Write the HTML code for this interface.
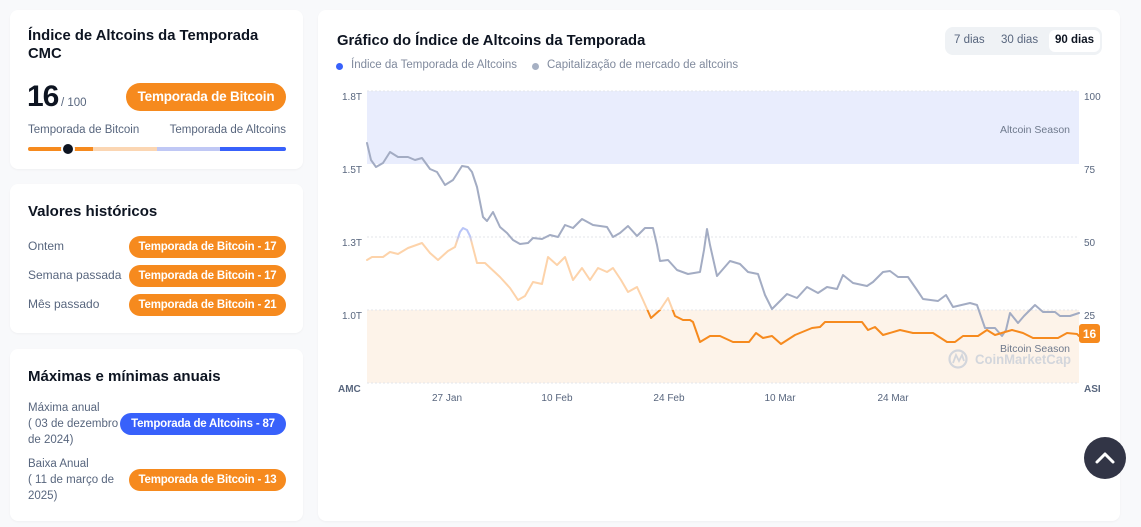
<!DOCTYPE html>
<html><head><meta charset="utf-8">
<style>
*{margin:0;padding:0;box-sizing:border-box}
body{width:1141px;height:527px;background:#f8f9fb;font-family:"Liberation Sans",sans-serif;position:relative;overflow:hidden;color:#0d1421}
.card{position:absolute;background:#fff;border-radius:8px;box-shadow:0 1px 2px rgba(0,0,0,0.04)}
.abs{position:absolute;white-space:nowrap}
.h{font-weight:bold;font-size:15px;color:#0d1421}
.lbl{font-size:11.5px;color:#58667e}
.pill{position:absolute;height:22px;border-radius:11px;background:#f68a1e;color:#fff;font-weight:bold;font-size:11.5px;text-align:center;line-height:22px;white-space:nowrap;letter-spacing:-0.2px}
</style></head><body>

<!-- Card 1 -->
<div class="card" style="left:10px;top:10px;width:293px;height:159px"></div>
<div class="abs h" style="left:28px;top:27px;line-height:18px;font-size:14.8px">Índice de Altcoins da Temporada<br>CMC</div>
<div class="abs" style="left:27px;top:80px;font-size:30px;font-weight:bold;letter-spacing:-1px">16</div>
<div class="abs" style="left:61px;top:97px;font-size:11.5px;color:#58667e">/ 100</div>
<div class="pill" style="left:126px;top:83px;width:160px;height:28px;border-radius:14px;line-height:28px;font-size:13.5px">Temporada de Bitcoin</div>
<div class="abs lbl" style="left:28px;top:124px">Temporada de Bitcoin</div>
<div class="abs lbl" style="right:855px;top:124px">Temporada de Altcoins</div>
<div class="abs" style="left:28px;top:147px;width:65px;height:4px;background:#f68a1e;border-radius:2px 0 0 2px"></div>
<div class="abs" style="left:93px;top:147px;width:64px;height:4px;background:#fbd6b3"></div>
<div class="abs" style="left:157px;top:147px;width:63px;height:4px;background:#c0c8f5"></div>
<div class="abs" style="left:220px;top:147px;width:66px;height:4px;background:#3861fb;border-radius:0 2px 2px 0"></div>
<div class="abs" style="left:61px;top:142px;width:14px;height:14px;border-radius:7px;background:#0d1421;border:2px solid #fff"></div>

<!-- Card 2 -->
<div class="card" style="left:10px;top:184px;width:293px;height:149px"></div>
<div class="abs h" style="left:28px;top:203px">Valores históricos</div>
<div class="abs lbl" style="left:28px;top:239px;font-size:12px">Ontem</div>
<div class="abs lbl" style="left:28px;top:268px;font-size:12px">Semana passada</div>
<div class="abs lbl" style="left:28px;top:297px;font-size:12px">Mês passado</div>
<div class="pill" style="left:129px;top:236px;width:157px">Temporada de Bitcoin - 17</div>
<div class="pill" style="left:129px;top:265px;width:157px">Temporada de Bitcoin - 17</div>
<div class="pill" style="left:129px;top:294px;width:157px">Temporada de Bitcoin - 21</div>

<!-- Card 3 -->
<div class="card" style="left:10px;top:349px;width:293px;height:172px"></div>
<div class="abs h" style="left:28px;top:368px">Máximas e mínimas anuais</div>
<div class="abs lbl" style="left:28px;top:400px;line-height:16px;font-size:11.5px">Máxima anual<br>( 03 de dezembro<br>de 2024)</div>
<div class="pill" style="left:120px;top:413px;width:166px;background:#3861fb">Temporada de Altcoins - 87</div>
<div class="abs lbl" style="left:28px;top:456px;line-height:16px;font-size:11.5px">Baixa Anual<br>( 11 de março de<br>2025)</div>
<div class="pill" style="left:129px;top:469px;width:157px">Temporada de Bitcoin - 13</div>

<!-- Right card -->
<div class="card" style="left:318px;top:10px;width:802px;height:511px"></div>
<div class="abs h" style="left:337px;top:33px;font-size:14.8px">Gráfico do Índice de Altcoins da Temporada</div>
<div class="abs" style="left:336px;top:63px;width:7px;height:7px;border-radius:4px;background:#3861fb"></div>
<div class="abs" style="left:351px;top:59px;font-size:11.5px;color:#808a9d">Índice da Temporada de Altcoins</div>
<div class="abs" style="left:532px;top:63px;width:7px;height:7px;border-radius:4px;background:#a6b0c3"></div>
<div class="abs" style="left:547px;top:59px;font-size:11.5px;color:#808a9d">Capitalização de mercado de altcoins</div>

<div class="abs" style="left:945px;top:27px;width:157px;height:28px;background:#eff2f5;border-radius:8px"></div>
<div class="abs" style="left:1049px;top:30px;width:51px;height:22px;background:#fff;border-radius:6px"></div>
<div class="abs" style="left:954px;top:34px;font-size:11.5px;color:#58667e">7 dias</div>
<div class="abs" style="left:1001px;top:34px;font-size:11.5px;color:#58667e">30 dias</div>
<div class="abs" style="left:1055px;top:34px;font-size:11.5px;font-weight:bold;color:#0d1421">90 dias</div>

<svg class="abs" style="left:0;top:0" width="1141" height="527" viewBox="0 0 1141 527">
<defs>
<linearGradient id="og" gradientUnits="userSpaceOnUse" x1="0" y1="383" x2="0" y2="220">
<stop offset="0" stop-color="#f68a1e"/>
<stop offset="0.447" stop-color="#f68a1e"/>
<stop offset="0.45" stop-color="#fdd3aa"/>
<stop offset="0.86" stop-color="#fdd3aa"/>
<stop offset="0.9" stop-color="#b9c5f7"/>
<stop offset="1" stop-color="#b9c5f7"/>
</linearGradient>
</defs>
<rect x="367" y="91" width="712" height="73" fill="#e9edfd"/>
<rect x="367" y="310" width="712" height="73" fill="#fdf3e9"/>
<g stroke="#e3e6ea" stroke-width="1" stroke-dasharray="2,2">
<line x1="367" y1="91" x2="1079" y2="91"/>
<line x1="367" y1="237" x2="1079" y2="237"/>
<line x1="367" y1="310" x2="1079" y2="310"/>
<line x1="367" y1="383" x2="1079" y2="383"/>
</g>
<g font-family="Liberation Sans, sans-serif" font-size="10" fill="#58667e">
<text x="362" y="100" text-anchor="end">1.8T</text>
<text x="362" y="173" text-anchor="end">1.5T</text>
<text x="362" y="246" text-anchor="end">1.3T</text>
<text x="362" y="319" text-anchor="end">1.0T</text>
<text x="1084" y="100">100</text>
<text x="1084" y="173">75</text>
<text x="1084" y="246">50</text>
<text x="1084" y="319">25</text>
<text x="338" y="392" font-weight="bold">AMC</text>
<text x="1084" y="392" font-weight="bold">ASI</text>
<text x="447" y="401" text-anchor="middle">27 Jan</text>
<text x="557" y="401" text-anchor="middle">10 Feb</text>
<text x="669" y="401" text-anchor="middle">24 Feb</text>
<text x="780" y="401" text-anchor="middle">10 Mar</text>
<text x="893" y="401" text-anchor="middle">24 Mar</text>
<text x="1070" y="133" text-anchor="end" font-size="10.5" fill="#6f7a8d">Altcoin Season</text>
<text x="1070" y="352" text-anchor="end" font-size="10.5" fill="#6f7a8d">Bitcoin Season</text>
<text x="975" y="364" font-size="14" font-weight="bold" fill="#d3d6dc" textLength="96" lengthAdjust="spacingAndGlyphs">CoinMarketCap</text>
</g>
<circle cx="958" cy="359" r="8.5" fill="none" stroke="#d3d6dc" stroke-width="2.2"/>
<path d="M953,363 L956,355 L959,361 L962,355 L964,361" fill="none" stroke="#d3d6dc" stroke-width="1.8"/>
<polyline fill="none" stroke="#a3acc3" stroke-width="2" stroke-linejoin="round" stroke-linecap="round" points="367,143 371,160 376,167 383,163 390,152 398,157 408,157 415,160 422,158 430,169 437,172 445,185 453,180 462,166 468,167 472,172 477,187 483,217 487,221 493,212 500,227 507,233 513,240 520,244 528,243 533,238 542,239 550,235 558,237 565,225 573,228 582,219 593,225 607,227 613,237 620,233 628,226 637,236 645,228 653,228 657,245 660,261 668,260 677,270 688,274 700,272 704,250 707,229 710,245 717,276 730,261 740,264 748,272 758,274 765,295 772,309 787,294 797,298 807,287 818,293 827,287 837,289 843,275 853,283 867,286 873,282 883,272 890,271 898,277 908,277 917,290 923,299 938,301 946,295 953,307 970,303 977,305 985,328 995,328 1002,336 1006,330 1010,313 1018,323 1024,316 1035,305 1043,312 1055,312 1060,316 1070,316 1079,313"/>
<polyline fill="none" stroke="url(#og)" stroke-width="2" stroke-linejoin="round" stroke-linecap="round" points="367,260 372,257 383,257 390,252 398,254 408,248 422,243 430,253 438,260 448,251 455,247 460,232 463,228 467,230 470,236 477,263 485,263 500,277 510,288 518,300 525,296 533,282 542,284 548,257 557,265 565,257 573,280 582,268 590,280 598,268 607,272 613,268 621,280 628,292 637,287 643,300 651,318 660,310 668,298 675,316 683,320 690,320 693,322 700,342 710,336 720,336 733,342 749,342 756,333 763,338 772,336 781,344 795,335 812,328 820,327 825,322 862,322 868,330 875,327 883,335 900,330 913,333 933,333 947,342 955,342 963,336 978,336 987,330 995,335 1005,332 1012,330 1023,333 1033,338 1058,338 1067,333 1077,334 1079,336"/>
<rect x="1079" y="324" width="21" height="19" rx="3" fill="#f68a1e"/>
<text x="1089.5" y="338" text-anchor="middle" font-family="Liberation Sans, sans-serif" font-size="12" font-weight="bold" fill="#fff">16</text>
<circle cx="1105" cy="458" r="21" fill="#323546"/>
<path d="M1097,462 L1105,454 L1113,462" fill="none" stroke="#fff" stroke-width="3" stroke-linecap="round" stroke-linejoin="round"/>
</svg>
</body></html>
